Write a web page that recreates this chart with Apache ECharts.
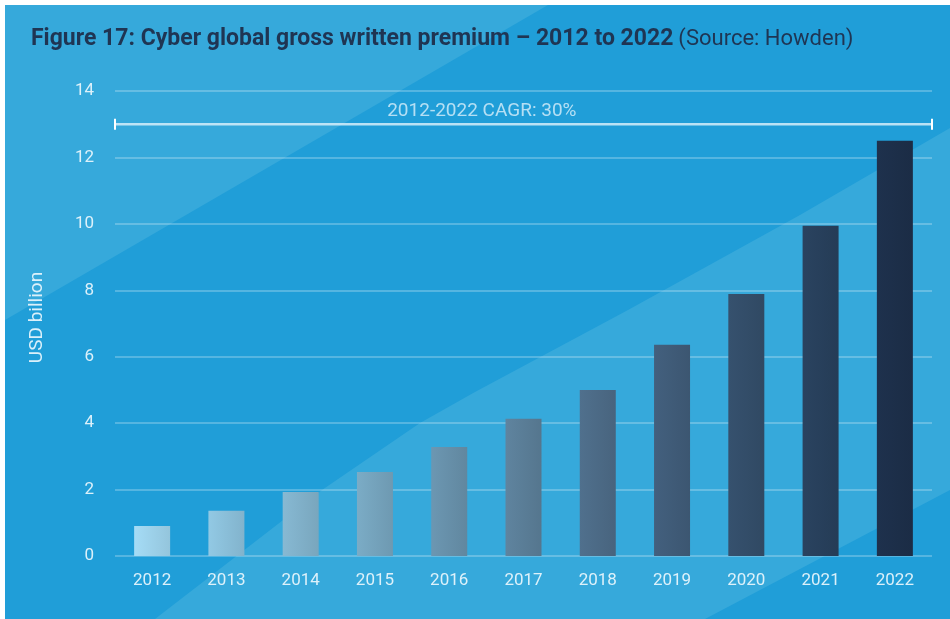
<!DOCTYPE html>
<html>
<head>
<meta charset="utf-8">
<script src="https://cdn.jsdelivr.net/npm/echarts@6/dist/echarts.min.js"></script>
<style>
html,body{margin:0;padding:0;background:#fff;}
#c{width:950px;height:619px;}
</style>
</head>
<body>
<div id="c"></div>
<script>
// ---- data ----
const years = ['2012','2013','2014','2015','2016','2017','2018','2019','2020','2021','2022'];
const premium = [0.9, 1.36, 1.93, 2.53, 3.28, 4.13, 5.0, 6.36, 7.89, 9.94, 12.5];
const yMin = 0, yMax = 14, yStep = 2;
const cagrLevel = 13;
const cagrLabel = '2012-2022 CAGR: 30%';
const titleMain = 'Figure 17: Cyber global gross written premium \u2013 2012 to 2022';
const titleSource = '(Source: Howden)';
const yAxisName = 'USD billion';

// ---- styles ----
const barColors = ['#9fd4ed','#8cc1db','#82b2cb','#76a5be','#6891ab','#5b7f99','#4d6c88','#405c79','#344e6a','#28405c','#1d2f4a'];
const darkBlue = '#209ed8';
const lightBlue = '#36a9db';
const textNavy = '#1f3553';
const labelWhite = 'rgba(235,247,253,0.92)';

function shade(hex, f){
  const n = parseInt(hex.slice(1),16);
  let r=(n>>16)&255,g=(n>>8)&255,b=n&255;
  r=Math.round(r*f);g=Math.round(g*f);b=Math.round(b*f);
  return 'rgb('+r+','+g+','+b+')';
}

const chart = echarts.init(document.getElementById('c'));
const option = {
  backgroundColor: '#ffffff',
  animation: false,
  graphic: [
    {type:'rect', z:-10, shape:{x:5,y:5,width:945,height:614}, style:{fill:darkBlue}},
    {type:'polygon', z:-9, shape:{points:[[5,5],[548,5],[5,320]]}, style:{fill:lightBlue}},
    {type:'polygon', z:-9, shape:{points:[[155,619],[322,490],[420,423],[475,392],[628,310],[800,215],[950,128],[950,490],[705,619]]}, style:{fill:lightBlue}}
  ],
  title: {
    left: 26, top: 23,
    text: '{b|' + titleMain + '} {n|' + titleSource + '}',
    textStyle: {
      rich: {
        b: {fontFamily:'Roboto', fontWeight:'bold', fontSize:23, color:textNavy},
        n: {fontFamily:'Roboto', fontWeight:'normal', fontSize:22, color:textNavy}
      }
    }
  },
  grid: {left:115, right:18, top:91, bottom:63},
  xAxis: [
    {
      type:'category', data: years,
      axisLine:{show:false}, axisTick:{show:false},
      axisLabel:{color:labelWhite, fontFamily:'Roboto', fontSize:17, margin:16}
    },
    {
      type:'value', min:0, max:1, show:false, position:'top'
    }
  ],
  yAxis: {
    type:'value', min:yMin, max:yMax, interval:yStep,
    name: yAxisName, nameLocation:'middle', nameRotate:90, nameGap:68,
    nameTextStyle:{color:labelWhite, fontFamily:'Roboto', fontSize:19, padding:[0,0,0,12]},
    axisLine:{show:false}, axisTick:{show:false},
    axisLabel:{color:labelWhite, fontFamily:'Roboto', fontSize:17, margin:21},
    splitLine:{lineStyle:{color:'rgba(255,255,255,0.32)', width:1.5}}
  },
  series: [
    {
      type:'bar', barWidth:36,
      data: premium.map((v,i)=>({
        value:v,
        itemStyle:{color:new echarts.graphic.LinearGradient(0,0,1,0,[
          {offset:0,color:shade(barColors[i],1.04)},
          {offset:1,color:shade(barColors[i],0.93)}
        ])}
      }))
    },
    {
      type:'line', xAxisIndex:1,
      data:[[0,cagrLevel],[1,cagrLevel]],
      symbol:'rect', symbolSize:[2,11], showSymbol:true,
      itemStyle:{color:'#ffffff'},
      lineStyle:{color:'rgba(225,242,252,0.8)', width:2.5},
      silent:true, z:3
    },
    {
      type:'scatter', xAxisIndex:1,
      data:[[0.449,cagrLevel]],
      symbolSize:0,
      label:{show:true, position:'top', distance:3, formatter:cagrLabel,
        color:labelWhite, fontFamily:'Roboto', fontSize:19},
      silent:true
    }
  ]
};
chart.setOption(option);
</script>
</body>
</html>
